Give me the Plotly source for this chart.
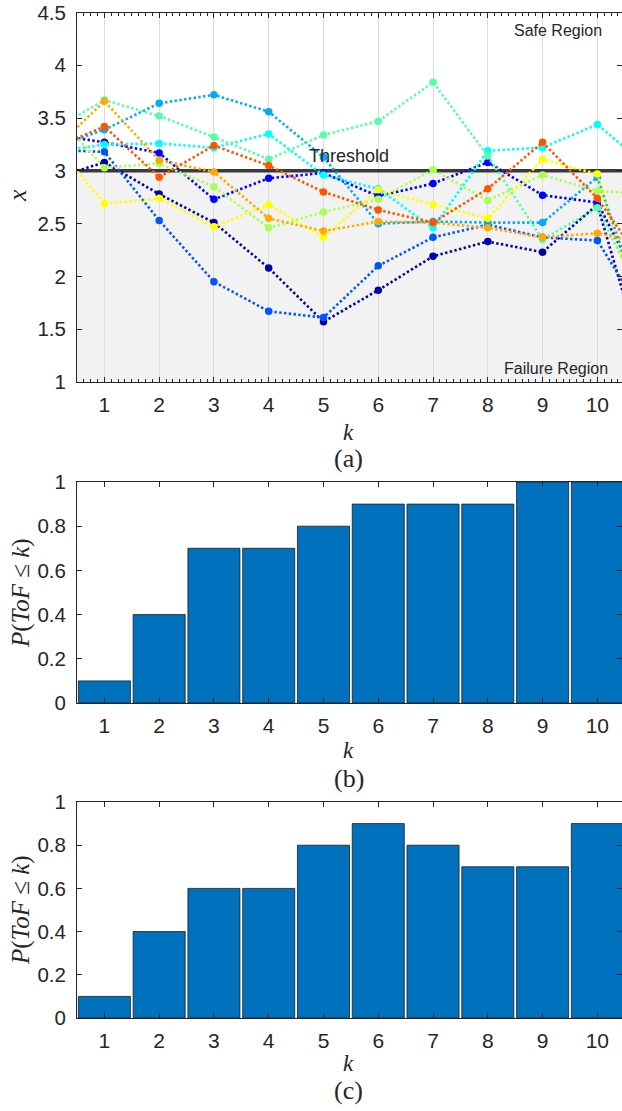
import plotly.graph_objects as go

W, H = 622, 1111

# ---------------- data ----------------
k_steps = [0, 1, 2, 3, 4, 5, 6, 7, 8, 9, 10, 11]

traj_navy   = [2.92, 3.08, 2.78, 2.51, 2.08, 1.57, 1.87, 2.19, 2.33, 2.23, 2.68, 0.90]
traj_blue   = [3.35, 3.27, 3.17, 2.73, 2.93, 2.98, 2.76, 2.88, 3.08, 2.77, 2.70, 1.70]
traj_mblue  = [3.20, 3.18, 2.53, 1.95, 1.67, 1.61, 2.10, 2.37, 2.49, 2.37, 2.34, 1.50]
traj_lblue  = [3.21, 3.39, 3.64, 3.72, 3.56, 3.13, 2.50, 2.52, 2.51, 2.51, 2.94, 1.40]
traj_cyan   = [3.17, 3.25, 3.26, 3.22, 3.35, 2.96, 2.83, 2.46, 3.19, 3.22, 3.44, 3.00]
traj_aqua   = [3.37, 3.67, 3.52, 3.32, 3.11, 3.34, 3.47, 3.84, 3.14, 2.35, 2.65, 1.60]
traj_lime   = [3.60, 3.03, 3.07, 2.85, 2.46, 2.61, 2.73, 3.01, 2.72, 2.96, 2.81, 2.78]
traj_yellow = [3.31, 2.69, 2.74, 2.47, 2.68, 2.37, 2.82, 2.68, 2.55, 3.11, 2.97, 1.20]
traj_orange = [3.16, 3.66, 3.10, 2.99, 2.55, 2.43, 2.52, 2.51, 2.46, 2.37, 2.41, 2.30]
traj_red    = [3.20, 3.42, 2.94, 3.24, 3.05, 2.80, 2.63, 2.51, 2.83, 3.27, 2.74, 2.00]

trajectories = [traj_navy, traj_blue, traj_mblue, traj_lblue, traj_cyan,
                traj_aqua, traj_lime, traj_yellow, traj_orange, traj_red]
traj_colors = ["#0000AA", "#0000FF", "#0055FF", "#00AAFF", "#00FFFF",
               "#55FFAA", "#AAFF55", "#FFFF00", "#FFAA00", "#FF5500"]

threshold = 3.0

k_bins = [1, 2, 3, 4, 5, 6, 7, 8, 9, 10]
p_tof_b = [0.1, 0.4, 0.7, 0.7, 0.8, 0.9, 0.9, 0.9, 1.0, 1.0]
p_tof_c = [0.1, 0.4, 0.6, 0.6, 0.8, 0.9, 0.8, 0.7, 0.7, 0.9]

y_ticks_a = [1, 1.5, 2, 2.5, 3, 3.5, 4, 4.5]
y_ticklabels_a = ["1", "1.5", "2", "2.5", "3", "3.5", "4", "4.5"]
y_ticks_p = [0, 0.2, 0.4, 0.6, 0.8, 1]
y_ticklabels_p = ["0", "0.2", "0.4", "0.6", "0.8", "1"]

# ---------------- helpers ----------------
def py(v):  # pixel row -> paper y
    return 1 - v / H

def px(v):
    return v / W

AX = "#262626"
SANS = "Liberation Sans, Arial, Helvetica, sans-serif"
SERIF = "Liberation Serif, DejaVu Serif, serif"

fig = go.Figure()

for vals, col in zip(trajectories, traj_colors):
    fig.add_trace(go.Scatter(
        x=k_steps, y=vals, mode="lines+markers",
        line=dict(color=col, width=2.6, dash="2.4px,2.4px"),
        marker=dict(color=col, size=7.5, line=dict(width=0)),
        xaxis="x", yaxis="y", showlegend=False, hoverinfo="skip"))

bar_common = dict(marker=dict(color="#0072BD", line=dict(color="#1a1a1a", width=0.8)),
                  showlegend=False, hoverinfo="skip")
fig.add_trace(go.Bar(x=k_bins, y=p_tof_b, xaxis="x2", yaxis="y2", **bar_common))
fig.add_trace(go.Bar(x=k_bins, y=p_tof_c, xaxis="x3", yaxis="y3", **bar_common))

xrange = [0.5, 10.45]
xdom = [px(77), 1.0]

def xax(anchor, grid=False, minor=False):
    d = dict(domain=xdom, range=xrange, anchor=anchor, automargin=False,
             tickmode="array", tickvals=k_bins, ticktext=[str(k) for k in k_bins],
             ticks="inside", ticklen=5, tickcolor=AX, tickwidth=1,
             showline=True, linecolor=AX, linewidth=1, mirror="ticks",
             showgrid=grid, gridcolor="#dcdcdc", gridwidth=1,
             zeroline=False, ticklabelstandoff=4, ticklabeloverflow="allow",
             tickfont=dict(family=SANS, size=21, color=AX))
    if minor:
        d["minor"] = dict(ticks="inside", ticklen=3, dtick=0.125, tick0=0.5,
                          tickcolor=AX, showgrid=False)
    return d

def yax(anchor, dom, rng, tv, tt):
    return dict(domain=dom, range=rng, anchor=anchor, automargin=False,
                tickmode="array", tickvals=tv, ticktext=tt,
                ticks="inside", ticklen=5, tickcolor=AX, tickwidth=1,
                showline=True, linecolor=AX, linewidth=1, mirror="ticks",
                showgrid=False, zeroline=False, ticklabelstandoff=6,
                ticklabeloverflow="allow",
                tickfont=dict(family=SANS, size=20.5, color=AX))

fig.update_layout(
    template="none",
    width=W, height=H, autosize=False,
    margin=dict(l=0, r=0, t=0, b=0, autoexpand=False),
    paper_bgcolor="white", plot_bgcolor="white",
    bargap=0.05,
    xaxis=xax("y", grid=True, minor=True),
    yaxis=yax("x", [py(382), py(12.5)], [1, 4.5], y_ticks_a, y_ticklabels_a),
    xaxis2=xax("y2"),
    yaxis2=yax("x2", [py(703), py(482)], [0, 1], y_ticks_p, y_ticklabels_p),
    xaxis3=xax("y3"),
    yaxis3=yax("x3", [py(1018), py(802)], [0, 1], y_ticks_p, y_ticklabels_p),
)

# failure region and threshold
fig.add_shape(type="rect", xref="x", yref="y", x0=0, x1=12, y0=1, y1=threshold,
              fillcolor="#f2f2f2", line=dict(width=0), layer="below")
fig.add_shape(type="line", xref="x", yref="y", x0=0, x1=12, y0=threshold, y1=threshold,
              line=dict(color="#3a3a3a", width=3.5), layer="between")

ann = []
ann.append(dict(x=5.47, y=3.14, xref="x", yref="y", text="Threshold", showarrow=False,
                font=dict(family=SANS, size=18, color=AX), xanchor="center", yanchor="middle"))
ann.append(dict(x=9.29, y=4.33, xref="x", yref="y", text="Safe Region", showarrow=False,
                font=dict(family=SANS, size=16, color=AX), xanchor="center", yanchor="middle"))
ann.append(dict(x=9.24, y=1.13, xref="x", yref="y", text="Failure Region", showarrow=False,
                font=dict(family=SANS, size=16, color=AX), xanchor="center", yanchor="middle"))

def lab(xp, yp, text, size, angle=0):
    return dict(x=px(xp), y=py(yp), xref="paper", yref="paper", text=text, showarrow=False,
                font=dict(family=SERIF, size=size, color=AX), textangle=angle,
                xanchor="center", yanchor="middle")

ptof = "<i>P</i>(<i>ToF</i> ≤ <i>k</i>)"
ann += [
    lab(18, 196, "<i>x</i>", 26, -90),
    lab(349, 432, "<i>k</i>", 23),
    lab(349, 458, "(a)", 26),
    lab(21, 593, ptof, 25, -90),
    lab(349, 750, "<i>k</i>", 23),
    lab(349, 778, "(b)", 26),
    lab(21, 910, ptof, 25, -90),
    lab(349, 1063, "<i>k</i>", 23),
    lab(349, 1090, "(c)", 26),
]
fig.update_layout(annotations=ann)

fig.write_html("out.html",
               config={"displayModeBar": False, "staticPlot": True},
               post_script="document.body.style.margin='0px';"
                           "document.body.style.overflow='hidden';")
